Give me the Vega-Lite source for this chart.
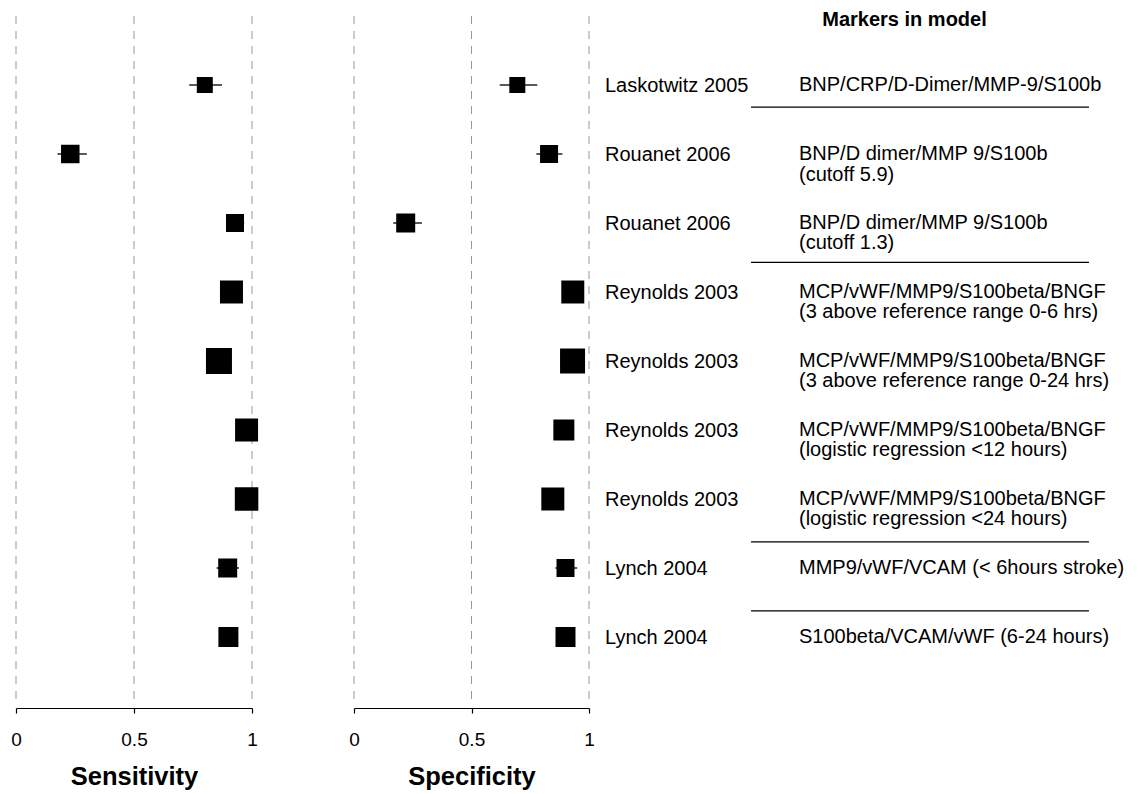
{
  "$schema": "https://vega.github.io/schema/vega-lite/v6.json",
  "background": "white",
  "padding": {"left": 10, "top": 0, "right": 0, "bottom": 0},
  "config": {
    "view": {"stroke": null},
    "font": "Liberation Sans",
    "axisX": {
      "grid": false,
      "domainColor": "#000",
      "domainWidth": 1.2,
      "tickColor": "#000",
      "tickWidth": 1.2,
      "tickSize": 5,
      "labelFontSize": 19,
      "labelColor": "#000",
      "labelPadding": 17,
      "labelFlush": false,
      "titleFontSize": 25.5,
      "titleFontWeight": "bold",
      "titleColor": "#000",
      "titlePadding": 15,
      "offset": 9
    }
  },
  "datasets": {
    "studies": [
      {"row": 1, "study": "Laskotwitz 2005", "markers": "BNP/CRP/D-Dimer/MMP-9/S100b", "sens": 0.80, "sens_lo": 0.734, "sens_hi": 0.873, "sens_w": 25.6, "spec": 0.695, "spec_lo": 0.62, "spec_hi": 0.78, "spec_w": 25.6},
      {"row": 2, "study": "Rouanet 2006", "markers": "BNP/D dimer/MMP 9/S100b\n(cutoff 5.9)", "sens": 0.23, "sens_lo": 0.176, "sens_hi": 0.30, "sens_w": 34.2, "spec": 0.83, "spec_lo": 0.776, "spec_hi": 0.887, "spec_w": 32.4},
      {"row": 3, "study": "Rouanet 2006", "markers": "BNP/D dimer/MMP 9/S100b\n(cutoff 1.3)", "sens": 0.928, "sens_lo": 0.90, "sens_hi": 0.967, "sens_w": 32.4, "spec": 0.22, "spec_lo": 0.167, "spec_hi": 0.289, "spec_w": 36.1},
      {"row": 4, "study": "Reynolds 2003", "markers": "MCP/vWF/MMP9/S100beta/BNGF\n(3 above reference range 0-6 hrs)", "sens": 0.913, "sens_lo": 0.88, "sens_hi": 0.94, "sens_w": 52.9, "spec": 0.931, "spec_lo": 0.91, "spec_hi": 0.95, "spec_w": 52.9},
      {"row": 5, "study": "Reynolds 2003", "markers": "MCP/vWF/MMP9/S100beta/BNGF\n(3 above reference range 0-24 hrs)", "sens": 0.86, "sens_lo": 0.83, "sens_hi": 0.89, "sens_w": 67.6, "spec": 0.93, "spec_lo": 0.91, "spec_hi": 0.95, "spec_w": 62.5},
      {"row": 6, "study": "Reynolds 2003", "markers": "MCP/vWF/MMP9/S100beta/BNGF\n(logistic regression <12 hours)", "sens": 0.977, "sens_lo": 0.95, "sens_hi": 0.99, "sens_w": 52.9, "spec": 0.893, "spec_lo": 0.87, "spec_hi": 0.915, "spec_w": 44.1},
      {"row": 7, "study": "Reynolds 2003", "markers": "MCP/vWF/MMP9/S100beta/BNGF\n(logistic regression <24 hours)", "sens": 0.977, "sens_lo": 0.95, "sens_hi": 0.99, "sens_w": 55.2, "spec": 0.846, "spec_lo": 0.82, "spec_hi": 0.87, "spec_w": 52.9},
      {"row": 8, "study": "Lynch 2004", "markers": "MMP9/vWF/VCAM (< 6hours stroke)", "sens": 0.897, "sens_lo": 0.85, "sens_hi": 0.945, "sens_w": 36.1, "spec": 0.90, "spec_lo": 0.857, "spec_hi": 0.95, "spec_w": 32.4},
      {"row": 9, "study": "Lynch 2004", "markers": "S100beta/VCAM/vWF (6-24 hours)", "sens": 0.90, "sens_lo": 0.86, "sens_hi": 0.94, "sens_w": 40, "spec": 0.90, "spec_lo": 0.87, "spec_hi": 0.93, "spec_w": 40}
    ],
    "gridlines": [{"g": 0}, {"g": 0.5}, {"g": 1}],
    "separators": [{"sep": 1.32}, {"sep": 3.57}, {"sep": 7.62}, {"sep": 8.62}]
  },
  "resolve": {"scale": {"x": "independent", "y": "independent", "size": "independent"}},
  "spacing": 10,
  "hconcat": [
    {
      "spacing": 89,
      "resolve": {"scale": {"x": "independent", "y": "independent", "size": "independent"}},
      "hconcat": [
        {
          "width": 236,
          "height": 699,
          "layer": [
            {
              "data": {"name": "gridlines"},
              "mark": {"type": "rule", "color": "#999", "strokeWidth": 1, "strokeDash": [8, 7]},
              "encoding": {
                "x": {"field": "g", "type": "quantitative", "title": "Sensitivity", "scale": {"domain": [0, 1], "nice": false}, "axis": {"values": [0, 0.5, 1], "format": "~g"}},
                "y": {"datum": 0, "type": "quantitative", "scale": {"domain": [-0.2319, 9.8986], "reverse": true, "nice": false, "zero": false}, "axis": null},
                "y2": {"datum": 9.9}
              }
            },
            {
              "data": {"name": "studies"},
              "mark": {"type": "rule", "color": "#222", "strokeWidth": 1.5},
              "encoding": {
                "x": {"field": "sens_lo", "type": "quantitative", "title": "Sensitivity", "axis": {"values": [0, 0.5, 1], "format": "~g"}},
                "x2": {"field": "sens_hi"},
                "y": {"field": "row", "type": "quantitative", "axis": null}
              }
            },
            {
              "data": {"name": "studies"},
              "mark": {"type": "point", "shape": "square", "filled": true, "color": "#000", "opacity": 1, "strokeWidth": 0},
              "encoding": {
                "x": {"field": "sens", "type": "quantitative", "title": "Sensitivity", "axis": {"values": [0, 0.5, 1], "format": "~g"}},
                "y": {"field": "row", "type": "quantitative", "axis": null},
                "size": {"field": "sens_w", "type": "quantitative", "scale": {"domain": [0, 100], "range": [0, 1000]}, "legend": null}
              }
            }
          ]
        },
        {
          "width": 235,
          "height": 699,
          "layer": [
            {
              "data": {"name": "gridlines"},
              "mark": {"type": "rule", "color": "#999", "strokeWidth": 1, "strokeDash": [8, 7]},
              "encoding": {
                "x": {"field": "g", "type": "quantitative", "title": "Specificity", "scale": {"domain": [0, 1], "nice": false}, "axis": {"values": [0, 0.5, 1], "format": "~g"}},
                "y": {"datum": 0, "type": "quantitative", "scale": {"domain": [-0.2319, 9.8986], "reverse": true, "nice": false, "zero": false}, "axis": null},
                "y2": {"datum": 9.9}
              }
            },
            {
              "data": {"name": "studies"},
              "mark": {"type": "rule", "color": "#222", "strokeWidth": 1.5},
              "encoding": {
                "x": {"field": "spec_lo", "type": "quantitative", "title": "Specificity", "axis": {"values": [0, 0.5, 1], "format": "~g"}},
                "x2": {"field": "spec_hi"},
                "y": {"field": "row", "type": "quantitative", "axis": null}
              }
            },
            {
              "data": {"name": "studies"},
              "mark": {"type": "point", "shape": "square", "filled": true, "color": "#000", "opacity": 1, "strokeWidth": 0},
              "encoding": {
                "x": {"field": "spec", "type": "quantitative", "title": "Specificity", "axis": {"values": [0, 0.5, 1], "format": "~g"}},
                "y": {"field": "row", "type": "quantitative", "axis": null},
                "size": {"field": "spec_w", "type": "quantitative", "scale": {"domain": [0, 100], "range": [0, 1000]}, "legend": null}
              }
            }
          ]
        }
      ]
    },
    {
      "spacing": 0,
      "resolve": {"scale": {"x": "independent", "y": "independent", "size": "independent"}},
      "hconcat": [
        {
          "width": 145,
          "height": 699,
          "data": {"name": "studies"},
          "mark": {"type": "text", "align": "left", "baseline": "alphabetic", "fontSize": 20, "dy": 7, "color": "#000"},
          "encoding": {
            "x": {"value": 0},
            "y": {"field": "row", "type": "quantitative", "scale": {"domain": [-0.2319, 9.8986], "reverse": true, "nice": false, "zero": false}, "axis": null},
            "text": {"field": "study"}
          }
        },
        {
          "width": 338,
          "height": 699,
          "layer": [
            {
              "data": {"values": [{}]},
              "mark": {"type": "text", "text": "Markers in model", "fontWeight": "bold", "fontSize": 20, "align": "center", "baseline": "alphabetic", "dx": -15.5, "dy": 10, "color": "#000"},
              "encoding": {
                "y": {"datum": 0, "type": "quantitative", "scale": {"domain": [-0.2319, 9.8986], "reverse": true, "nice": false, "zero": false}, "axis": null}
              }
            },
            {
              "data": {"name": "separators"},
              "mark": {"type": "rule", "color": "#000", "strokeWidth": 1.3},
              "encoding": {
                "y": {"field": "sep", "type": "quantitative", "axis": null}
              }
            },
            {
              "data": {"name": "studies"},
              "mark": {"type": "text", "align": "left", "baseline": "alphabetic", "fontSize": 20, "lineBreak": "\n", "lineHeight": 20.5, "dx": 48, "dy": 6, "color": "#000"},
              "encoding": {
                "x": {"value": 0},
                "y": {"field": "row", "type": "quantitative", "axis": null},
                "text": {"field": "markers"}
              }
            }
          ]
        }
      ]
    }
  ]
}
